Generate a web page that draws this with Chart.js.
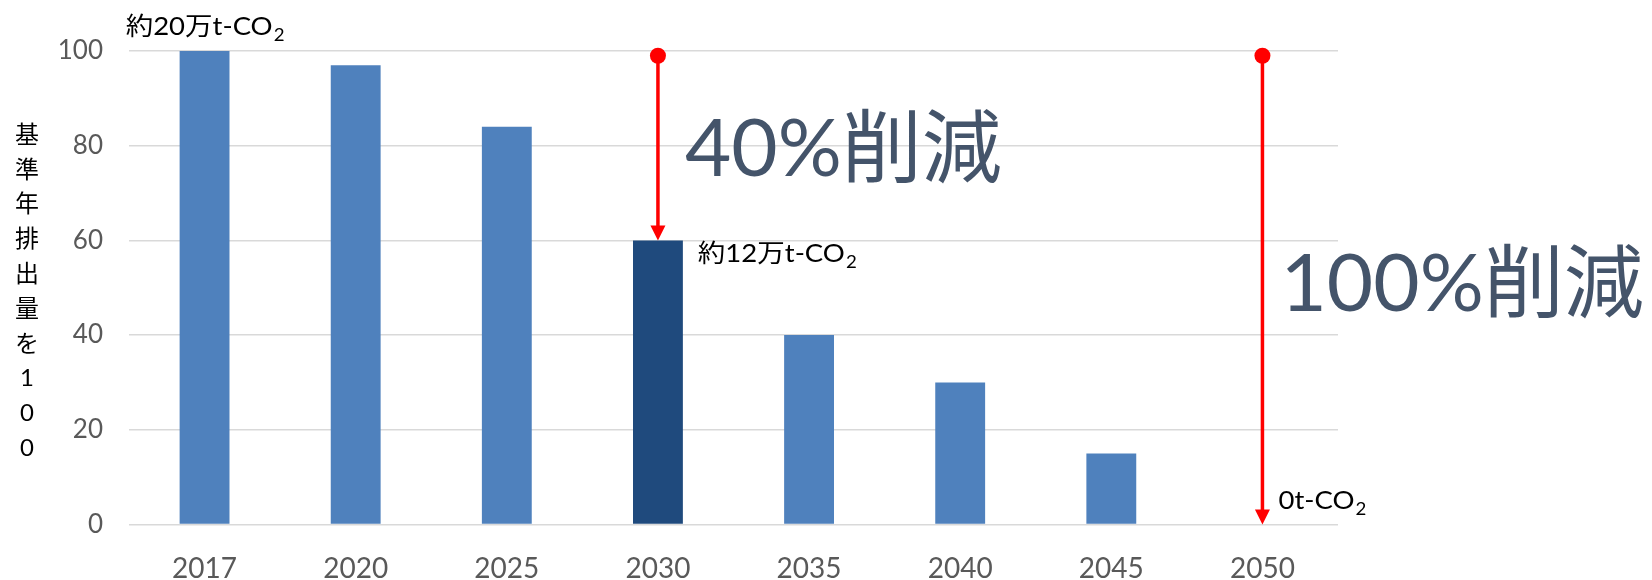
<!DOCTYPE html>
<html lang="ja">
<head>
<meta charset="utf-8">
<title>排出量削減目標</title>
<script src="https://cdn.jsdelivr.net/npm/chart.js@4.4.1/dist/chart.umd.min.js"></script>
<style>
  html, body { margin: 0; padding: 0; background: #ffffff; }
  #wrap { width: 1652px; height: 580px; }
</style>
</head>
<body>
<div id="wrap"><canvas id="reductionChart" width="1652" height="580"></canvas></div>
<script>
// categories and values (base year = 100)
const years = ['2017', '2020', '2025', '2030', '2035', '2040', '2045', '2050'];
const emissionIndex = [100, 97, 84, 60, 40, 30, 15, 0];
const highlightYear = '2030';
const yTicks = [0, 20, 40, 60, 80, 100];
const yTitle = '基準年排出量を100';

// reduction arrows: from near the base level down to the target year level
const arrowYears = ['2030', '2050'];
const arrowStart = [99, 99];
const reductionLabels = ['40%削減', '100%削減'];

// absolute amounts written next to the bars (CO + subscript 2)
const amountYears = ['2017', '2030', '2050'];
const amountText = ['約20万t-CO', '約12万t-CO', '0t-CO'];
const amountSub = '2';

const FONT = "Lato, 'Noto Sans CJK JP', sans-serif";
const BAR = '#4f81bd';
const BAR_DARK = '#1f4a7d';
const RED = '#ff0000';

const barColors = years.map(y => y === highlightYear ? BAR_DARK : BAR);

function valueOf(year) {
    return emissionIndex[years.indexOf(year)];
}

// text with a smaller subscript, stretched a bit horizontally
function drawSubText(ctx, base, sub, x, y, align) {
    const sx = 1.1;
    ctx.save();
    ctx.font = '25px ' + FONT;
    const w1 = ctx.measureText(base).width;
    ctx.font = '17px ' + FONT;
    const w2 = ctx.measureText(sub).width;
    const total = (w1 + w2) * sx;
    let left = x;
    if (align === 'center') left = x - total / 2;
    ctx.translate(left, y);
    ctx.scale(sx, 1);
    ctx.fillStyle = '#000000';
    ctx.textBaseline = 'alphabetic';
    ctx.textAlign = 'left';
    ctx.font = '25px ' + FONT;
    ctx.fillText(base, 0, 0);
    ctx.font = '17px ' + FONT;
    ctx.fillText(sub, w1 + 1, 6);
    ctx.restore();
}

function drawArrow(ctx, x, yTop, yTip) {
    const headH = 15, headW = 15;
    ctx.save();
    ctx.strokeStyle = RED;
    ctx.fillStyle = RED;
    ctx.lineWidth = 3.5;
    ctx.beginPath();
    ctx.moveTo(x, yTop);
    ctx.lineTo(x, yTip - headH + 1);
    ctx.stroke();
    ctx.beginPath();
    ctx.moveTo(x - headW / 2, yTip - headH);
    ctx.lineTo(x + headW / 2, yTip - headH);
    ctx.lineTo(x, yTip);
    ctx.closePath();
    ctx.fill();
    ctx.beginPath();
    ctx.arc(x, yTop, 8, 0, Math.PI * 2);
    ctx.fill();
    ctx.restore();
}

const annotations = {
    id: 'annotations',
    afterDatasetsDraw(chart) {
        const ctx = chart.ctx;
        const xs = chart.scales.x;
        const ys = chart.scales.y;
        const area = chart.chartArea;
        const halfBar = chart.getDatasetMeta(0).data[0].width / 2;

        // red arrows and the big reduction labels
        arrowYears.forEach((yr, i) => {
            const x = xs.getPixelForValue(years.indexOf(yr));
            drawArrow(ctx, x, ys.getPixelForValue(arrowStart[i]), ys.getPixelForValue(valueOf(yr)));
        });
        ctx.save();
        ctx.font = '80px ' + FONT;
        ctx.fillStyle = '#44546a';
        ctx.textBaseline = 'middle';
        ctx.textAlign = 'left';
        const x0 = xs.getPixelForValue(years.indexOf(arrowYears[0]));
        ctx.fillText(reductionLabels[0], x0 + 27, ys.getPixelForValue(79));
        const x1 = xs.getPixelForValue(years.indexOf(arrowYears[1]));
        ctx.fillText(reductionLabels[1], x1 + 18, ys.getPixelForValue(50.5));
        ctx.restore();

        // amount labels
        const a0 = xs.getPixelForValue(years.indexOf(amountYears[0]));
        drawSubText(ctx, amountText[0], amountSub, a0, ys.getPixelForValue(valueOf(amountYears[0])) - 16, 'center');
        const a1 = xs.getPixelForValue(years.indexOf(amountYears[1]));
        drawSubText(ctx, amountText[1], amountSub, a1 + halfBar + 15, ys.getPixelForValue(valueOf(amountYears[1])) + 22, 'left');
        const a2 = xs.getPixelForValue(years.indexOf(amountYears[2]));
        drawSubText(ctx, amountText[2], amountSub, a2 + 16, ys.getPixelForValue(valueOf(amountYears[2])) - 16, 'left');

        // vertical axis title, one character per line
        ctx.save();
        ctx.font = '24px ' + FONT;
        ctx.fillStyle = '#000000';
        ctx.textAlign = 'center';
        ctx.textBaseline = 'middle';
        const chars = Array.from(yTitle);
        const step = 34.8;
        const mid = (area.top + area.bottom) / 2 + 4;
        chars.forEach((c, i) => {
            ctx.fillText(c, 27, mid + (i - (chars.length - 1) / 2) * step);
        });
        ctx.restore();
    }
};

const chart = new Chart(document.getElementById('reductionChart'), {
    type: 'bar',
    data: {
        labels: years,
        datasets: [{
            data: emissionIndex,
            backgroundColor: barColors,
            borderWidth: 0,
            categoryPercentage: 1,
            barPercentage: 0.33
        }]
    },
    options: {
        responsive: false,
        animation: false,
        layout: { padding: { top: 51, right: 314, bottom: 0, left: 0 } },
        plugins: {
            legend: { display: false },
            tooltip: { enabled: false }
        },
        scales: {
            x: {
                grid: { display: false, drawTicks: false },
                border: { display: false },
                ticks: {
                    color: '#595959',
                    font: { family: FONT, size: 28 },
                    padding: 28
                },
                afterFit(scale) { scale.height = 55.5; }
            },
            y: {
                min: 0,
                max: 100,
                afterBuildTicks(scale) { scale.ticks = yTicks.map(v => ({ value: v })); },
                grid: { color: '#d9d9d9', lineWidth: 1.5, drawTicks: false },
                border: { display: false },
                ticks: {
                    color: '#595959',
                    font: { family: FONT, size: 26 },
                    padding: 26
                },
                afterFit(scale) { scale.width = 129; }
            }
        }
    },
    plugins: [annotations]
});
</script>
</body>
</html>
